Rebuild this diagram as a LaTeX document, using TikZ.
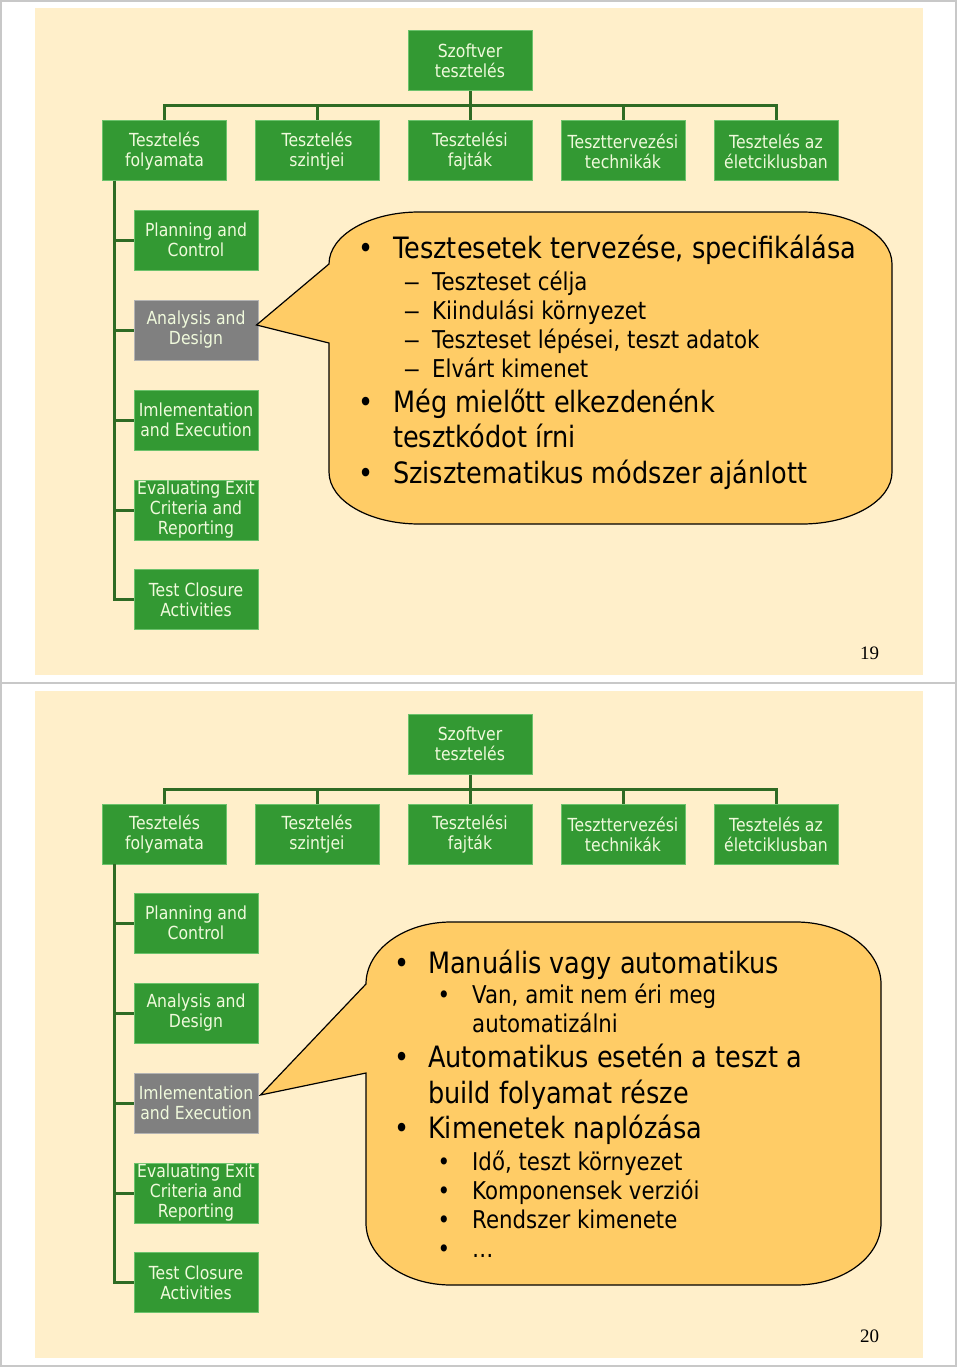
\documentclass[tikz,border=0pt]{standalone}
\usepackage{fontspec}
\setmainfont[FakeStretch=0.87]{DejaVu Sans}
\newfontfamily\numfont{Liberation Serif}
\usetikzlibrary{calc}
\definecolor{slidebg}{HTML}{FFEFCA}
\definecolor{boxgreen}{HTML}{339933}
\definecolor{boxedge}{HTML}{6CC26C}
\definecolor{boxgray}{HTML}{808080}
\definecolor{linegreen}{HTML}{2F6B24}
\definecolor{callfill}{HTML}{FFCC66}
\definecolor{boxtext}{HTML}{F0FADC}
\definecolor{framegray}{HTML}{C8C8C8}
\tikzset{
  tbox/.style={draw=boxedge, line width=1pt, fill=boxgreen, minimum width=124pt,
    minimum height=60pt, inner sep=0pt, text=boxtext, align=center,
    font=\fontsize{18}{20}\selectfont},
  gbox/.style={tbox, fill=boxgray, draw=boxgray!60!white},
  conn/.style={draw=linegreen, line width=3pt},
  bigtxt/.style={anchor=base west, inner sep=0pt, font=\fontsize{29.4}{35}\selectfont},
  subtxt/.style={anchor=base west, inner sep=0pt, font=\fontsize{24.5}{29}\selectfont},
  bulbig/.style={anchor=base, inner sep=0pt, font=\fontsize{29.4}{35}\selectfont},
  bulsub/.style={anchor=base, inner sep=0pt, font=\fontsize{24.5}{29}\selectfont},
  callout/.style={draw=black, line width=1.2pt, fill=callfill},
  pagenum/.style={anchor=base, inner sep=0pt, font=\numfont\fontsize{19}{19}\selectfont},
}
\newcommand\slidetree[3]{%
  \fill[slidebg] (35,8) rectangle (923,675);
  \coordinate (#1bar) at (470,106);
  \coordinate (#1lt) at (114,181);
  \node[tbox] (#1root) at (470,61) {Szoftver\\tesztelés};
  \node[tbox] (#1b1) at (164.5,151) {Tesztelés\\folyamata};
  \node[tbox] (#1b2) at (317,151) {Tesztelés\\szintjei};
  \node[tbox] (#1b3) at (470,151) {Tesztelési\\fajták};
  \node[tbox] (#1b4) at (623,151) {Teszttervezési\\technikák};
  \node[tbox] (#1b5) at (776,151) {Tesztelés az\\életciklusban};
  \node[tbox] (#1s1) at (196,240) {Planning and\\Control};
  \node[#2] (#1s2) at (196,330) {Analysis and\\Design};
  \node[#3] (#1s3) at (196,420) {Imlementation\\and Execution};
  \node[tbox] (#1s4) at (196,510) {Evaluating Exit\\Criteria and\\Reporting};
  \node[tbox] (#1s5) at (196,599.5) {Test Closure\\Activities};
  \draw[conn] (#1root.south) -- (#1bar);
  \draw[conn] (#1bar) -| (#1b1.north);
  \draw[conn] (#1bar) -| (#1b2.north);
  \draw[conn] (#1bar) -- (#1b3.north);
  \draw[conn] (#1bar) -| (#1b4.north);
  \draw[conn] (#1bar) -| (#1b5.north);
  \draw[conn] (#1lt) |- (#1s5.west);
  \draw[conn] (#1lt) |- (#1s1.west);
  \draw[conn] (#1lt) |- (#1s2.west);
  \draw[conn] (#1lt) |- (#1s3.west);
  \draw[conn] (#1lt) |- (#1s4.west);
}
\begin{document}
\begin{tikzpicture}[x=1pt,y=-1pt]
\useasboundingbox (0,0) rectangle (960,1367);
\fill[white] (0,0) rectangle (960,1367);
\draw[framegray, line width=1.5pt] (1,1) rectangle (956,1366);
\draw[framegray, line width=1.5pt] (1,683) -- (956,683);

% ---------- slide 19 ----------
\slidetree{A}{gbox}{tbox}
\draw[callout] ($(As2.east)+(-2,-5)$) -- (329,343) -- (329,472)
  arc[start angle=180,end angle=270,x radius=90pt,y radius=52pt] -- (802,524)
  arc[start angle=270,end angle=360,x radius=90pt,y radius=52pt] -- (892,264)
  arc[start angle=0,end angle=90,x radius=90pt,y radius=52pt] -- (419,212)
  arc[start angle=90,end angle=180,x radius=90pt,y radius=52pt] -- cycle;
\node[bulbig] (Ab1) at (366,258) {•};
\node[bigtxt] (At1) at (393,258) {Tesztesetek tervezése, specifikálása};
\node[bulsub] (Ad1) at (412,290) {\scalebox{1.6}[1]{–}};
\node[subtxt] (At2) at (432,290) {Teszteset célja};
\node[bulsub] (Ad2) at (412,319) {\scalebox{1.6}[1]{–}};
\node[subtxt] (At3) at (432,319) {Kiindulási környezet};
\node[bulsub] (Ad3) at (412,348) {\scalebox{1.6}[1]{–}};
\node[subtxt] (At4) at (432,348) {Teszteset lépései, teszt adatok};
\node[bulsub] (Ad4) at (412,377) {\scalebox{1.6}[1]{–}};
\node[subtxt] (At5) at (432,377) {Elvárt kimenet};
\node[bulbig] (Ab2) at (366,412) {•};
\node[bigtxt] (At6) at (393,412) {Még mielőtt elkezdenénk};
\node[bigtxt] (At7) at (393,447) {tesztkódot írni};
\node[bulbig] (Ab3) at (366,483) {•};
\node[bigtxt] (At8) at (393,483) {Szisztematikus módszer ajánlott};
\node[pagenum] (Apn) at (869.5,659) {19};

% ---------- slide 20 ----------
\begin{scope}[yshift=-683pt]
\slidetree{B}{tbox}{gbox}
\draw[callout] ($(Bs3.east)+(2,-8)$) -- (366,390) -- (366,540)
  arc[start angle=180,end angle=270,x radius=85pt,y radius=62pt] -- (796,602)
  arc[start angle=270,end angle=360,x radius=85pt,y radius=62pt] -- (881,301)
  arc[start angle=0,end angle=90,x radius=85pt,y radius=62pt] -- (451,239)
  arc[start angle=90,end angle=180,x radius=85pt,y radius=62pt] -- cycle;
\node[bulbig] (Bb1) at (402,290) {•};
\node[bigtxt] (Bt1) at (428,290) {Manuális vagy automatikus};
\node[bulsub] (Bc1) at (444,320) {•};
\node[subtxt] (Bt2) at (472,320) {Van, amit nem éri meg};
\node[subtxt] (Bt3) at (472,349) {automatizálni};
\node[bulbig] (Bb2) at (402,384) {•};
\node[bigtxt] (Bt4) at (428,384) {Automatikus esetén a teszt a};
\node[bigtxt] (Bt5) at (428,420) {build folyamat része};
\node[bulbig] (Bb3) at (402,455) {•};
\node[bigtxt] (Bt6) at (428,455) {Kimenetek naplózása};
\node[bulsub] (Bc2) at (444,487) {•};
\node[subtxt] (Bt7) at (472,487) {Idő, teszt környezet};
\node[bulsub] (Bc3) at (444,516) {•};
\node[subtxt] (Bt8) at (472,516) {Komponensek verziói};
\node[bulsub] (Bc4) at (444,545) {•};
\node[subtxt] (Bt9) at (472,545) {Rendszer kimenete};
\node[bulsub] (Bc5) at (444,574) {•};
\node[subtxt] (Bt10) at (472,574) {…};
\node[pagenum] (Bpn) at (869.5,659) {20};
\end{scope}
\end{tikzpicture}
\end{document}
